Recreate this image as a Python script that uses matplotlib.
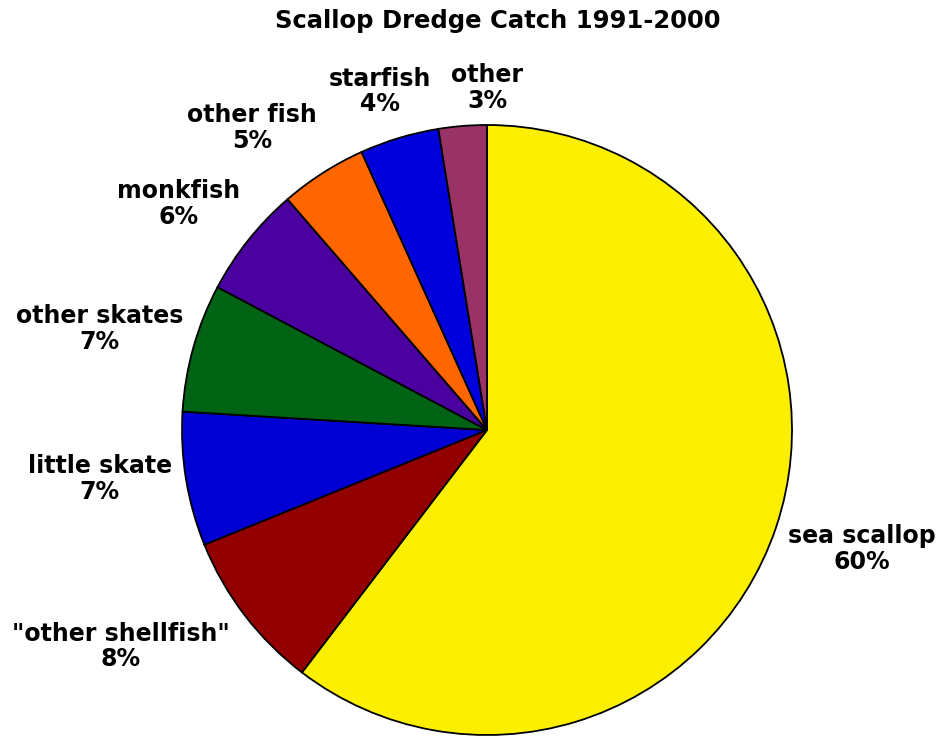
import matplotlib.pyplot as plt

# catch share by species, percent
species = ['sea scallop', '"other shellfish"', 'little skate', 'other skates',
           'monkfish', 'other fish', 'starfish', 'other']
share = [60.4, 8.49, 7.1, 6.8, 5.9, 4.6, 4.2, 2.55]
colors = ['#FCF000', '#920000', '#0000D4', '#006414', '#4B00A0',
          '#FF6600', '#0000DC', '#993366']

# label centres (x, y) in pie radius units
label_pos = [(1.23, -0.39), (-1.20, -0.71), (-1.27, -0.16), (-1.27, 0.33),
             (-1.01, 0.74), (-0.77, 0.99), (-0.35, 1.11), (0.0, 1.12)]

fig = plt.figure(figsize=(9.4, 7.36), dpi=100)
ax = fig.add_axes([0, 0, 1, 1])
wedges, _ = ax.pie(share, colors=colors, startangle=90, counterclock=False,
                   wedgeprops={'edgecolor': 'black', 'linewidth': 1.3})

for name, val, (x, y) in zip(species, share, label_pos):
    ax.text(x, y, f'{name}\n{val:.0f}%', ha='center', va='center',
            fontsize=17, fontweight='bold', linespacing=1.1)

r = 305.0
ax.set_xlim(-487 / r, (940 - 487) / r)
ax.set_ylim(-(736 - 430) / r, 430 / r)
ax.set_aspect('equal')
ax.axis('off')

fig.text(0.529, 0.972, 'Scallop Dredge Catch 1991-2000', ha='center', va='center',
         fontsize=17.5, fontweight='bold')

fig.savefig('out.png', dpi=100)
